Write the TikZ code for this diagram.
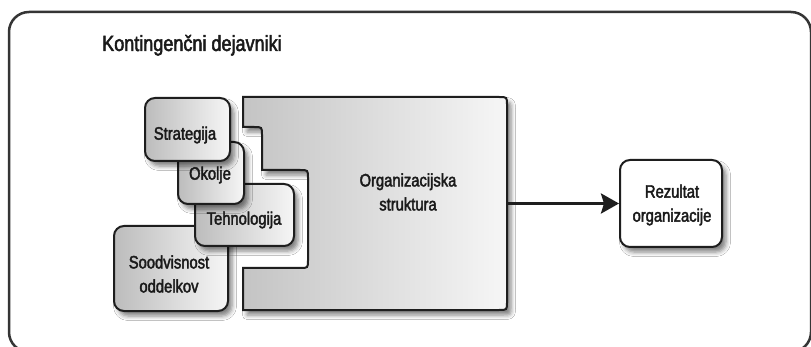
\documentclass[tikz,border=0pt]{standalone}
\usepackage{fontspec}
\setmainfont{Liberation Sans}[FakeStretch=0.82]
\newfontfamily\lblfont{Liberation Sans}[FakeStretch=0.82, FakeBold=2.2]
\usetikzlibrary{shadows.blur,arrows.meta}
\definecolor{lineC}{HTML}{1E1E1E}
\definecolor{txtC}{HTML}{1A1A1A}
\definecolor{gL}{HTML}{BCBCBC}
\definecolor{gR}{HTML}{F6F6F6}
\definecolor{gLb}{HTML}{C4C4C4}
\begin{document}
\begin{tikzpicture}[x=1pt,y=-1pt,
  shd/.style={blur shadow={shadow xshift=4pt, shadow yshift=-5pt, shadow blur radius=4.5pt, shadow opacity=50}},
  fbox/.style={draw=lineC, line width=2pt, rounded corners=10pt, left color=gL, right color=gR, shd, inner sep=0pt, anchor=north west},
  wbox/.style={draw=lineC, line width=2pt, rounded corners=10pt, fill=white, shd, inner sep=0pt},
  lbl/.style={font=\lblfont\fontsize{18}{24}\selectfont, text=txtC, align=center, inner sep=0pt},
  ttl/.style={font=\lblfont\fontsize{22}{26}\selectfont, text=txtC, inner sep=0pt, anchor=base west},
  arr/.style={draw=lineC, line width=3pt, -{Stealth[length=18pt, width=20pt, inset=3pt]}}
]
\path[use as bounding box] (0,0) rectangle (811,347);
\clip (0,0) rectangle (811,347);
\fill[white] (0,0) rectangle (811,347);

% outer frame
\draw[draw=lineC!90, line width=2.5pt, rounded corners=20pt] (9,12) rectangle (811,352);

% title
\node[ttl] (title) at (102,51) {Kontingenčni dejavniki};

% contingency factor boxes (back to front)
\node[fbox, minimum width=114pt, minimum height=85pt] (sood) at (113,225) {};
\node[fbox, minimum width=99pt, minimum height=62pt] (tehn) at (194,183) {};
\node[fbox, minimum width=66pt, minimum height=62pt] (okol) at (177,141) {};
\node[fbox, minimum width=85pt, minimum height=63pt] (strat) at (144,97) {};

\node[lbl] (sood-t) at (169,274) {Soodvisnost\\oddelkov};
\node[lbl] (tehn-t) at (244,220) {Tehnologija};
\node[lbl] (okol-t) at (210,175) {Okolje};
\node[lbl] (strat-t) at (185,135) {Strategija};

% organisational structure (notched shape)
\path[draw=lineC, line width=2pt, left color=gLb, right color=gR, shd]
  (243,97) -- (499,97) .. controls (507,97) .. (507,105)
  -- (507,302) .. controls (507,310) .. (499,310)
  -- (243,310) -- (243,268) -- (300,268) .. controls (308,268) .. (308,260)
  -- (308,178) .. controls (308,170) .. (300,170)
  -- (262,170) -- (262,135) .. controls (262,127) .. (254,127)
  -- (243,127) -- cycle;
\node[lbl] (org-t) at (408,192) {Organizacijska\\struktura};
\coordinate (orgout) at (507,203.5);

% result
\node[wbox, minimum width=102pt, minimum height=87pt] (rez) at (671,203.5) {};
\node[lbl] (rez-t) at (672,205) {Rezultat\\organizacije};

\draw[arr] (orgout) -- (rez.west);
\end{tikzpicture}
\end{document}
